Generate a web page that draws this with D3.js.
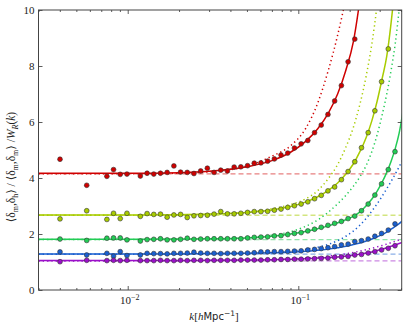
<!DOCTYPE html>
<html>
<head>
<meta charset="utf-8">
<script src="https://cdn.jsdelivr.net/npm/d3@7"></script>
<style>
  body { margin: 0; background: #fff; }
  svg { display: block; font-family: "Liberation Serif", "DejaVu Serif", serif; }
</style>
</head>
<body>
<svg id="chart" width="407" height="329"></svg>
<script>
// measured k bins (h/Mpc)
const kBins = [0.00401, 0.00575, 0.00755, 0.00826, 0.00904, 0.00990, 0.01186, 0.01299, 0.01422, 0.01556,
  0.01703, 0.01865, 0.02041, 0.02234, 0.02445, 0.02678, 0.02930, 0.03208, 0.03511, 0.03843,
  0.04207, 0.04605, 0.05040, 0.05517, 0.06039, 0.06610, 0.07236, 0.07920, 0.08670, 0.09490,
  0.1039, 0.1137, 0.1245, 0.1363, 0.1492, 0.1633, 0.1789, 0.1958, 0.2143, 0.2346,
  0.2568, 0.2811, 0.3077, 0.3369, 0.3688];

const redPts = [4.67, 3.74, 4.06, 4.30, 4.13, 4.14, 4.07, 4.17, 4.14, 4.17,
  4.20, 4.43, 4.21, 4.20, 4.16, 4.25, 4.35, 4.20, 4.28, 4.25,
  4.39, 4.40, 4.44, 4.53, 4.54, 4.60, 4.68, 4.82, 4.89, 5.07,
  5.22, 5.34, 5.62, 5.89, 6.27, 6.75, 7.30, 8.15, 8.96, null,
  null, null, null, null, null];
const yellowPts = [2.54, 2.83, 2.52, 2.74, 2.55, 2.74, 2.63, 2.73, 2.70, 2.71,
  2.60, 2.68, 2.70, 2.59, 2.65, 2.66, 2.67, 2.71, 2.80, 2.72,
  2.72, 2.74, 2.77, 2.80, 2.80, 2.81, 2.85, 2.89, 2.95, 3.01,
  3.07, 3.15, 3.26, 3.38, 3.54, 3.68, 3.94, 4.23, 4.58, 5.08,
  5.62, 6.40, 7.44, 8.61, null];
const greenPts = [1.82, 1.77, 1.85, 1.86, 1.86, 1.79, 1.75, 1.80, 1.81, 1.83,
  1.79, 1.79, 1.81, 1.85, 1.81, 1.82, 1.83, 1.83, 1.83, 1.83,
  1.83, 1.83, 1.86, 1.88, 1.89, 1.90, 1.93, 1.94, 1.98, 2.02,
  2.05, 2.11, 2.17, 2.24, 2.31, 2.38, 2.45, 2.55, 2.64, 2.83,
  3.07, 3.39, 3.79, 4.30, 4.94];
const bluePts = [1.36, 1.25, 1.31, 1.21, 1.37, 1.23, 1.25, 1.31, 1.30, 1.30,
  1.29, 1.31, 1.31, 1.32, 1.35, 1.32, 1.31, 1.31, 1.30, 1.31,
  1.31, 1.31, 1.32, 1.33, 1.36, 1.36, 1.37, 1.37, 1.38, 1.39,
  1.40, 1.43, 1.45, 1.48, 1.51, 1.55, 1.61, 1.64, 1.73, 1.76,
  1.82, 1.92, 2.02, 2.14, 2.36];
const magentaPts = [1.01, 1.06, 1.05, 1.06, 1.05, 1.06, 1.05, 1.05, 1.05, 1.06,
  1.05, 1.05, 1.06, 1.05, 1.06, 1.06, 1.05, 1.06, 1.06, 1.06,
  1.06, 1.07, 1.07, 1.07, 1.07, 1.08, 1.08, 1.09, 1.09, 1.10,
  1.10, 1.11, 1.12, 1.13, 1.14, 1.17, 1.18, 1.20, 1.25, 1.27,
  1.32, 1.37, 1.43, 1.49, 1.58];

// k values at which the fitted (solid) and model (dotted) curves were read
const curveK = [0.003, 0.01, 0.02, 0.03, 0.05, 0.07, 0.09, 0.11, 0.13, 0.15, 0.17, 0.19,
  0.21, 0.23, 0.25, 0.27, 0.29, 0.31, 0.33, 0.35, 0.37, 0.39, 0.41];

const redFit = [4.17, 4.17, 4.19, 4.24, 4.40, 4.62, 4.92, 5.30, 5.76, 6.32, 7.00, 7.85,
  8.85, 10.4, 12.2, null, null, null, null, null, null, null, null];
const redModel = [4.15, 4.15, 4.17, 4.22, 4.42, 4.78, 5.15, 5.75, 6.68, 7.85, 9.10, 10.45,
  12.0, null, null, null, null, null, null, null, null, null, null];
const yellowFit = [2.68, 2.68, 2.69, 2.71, 2.77, 2.86, 2.98, 3.14, 3.33, 3.56, 3.82, 4.14,
  4.50, 4.95, 5.45, 6.05, 6.75, 7.55, 8.35, 9.55, 11.0, 12.6, null];
const yellowModel = [2.67, 2.67, 2.68, 2.70, 2.78, 2.90, 3.05, 3.25, 3.55, 3.98, 4.48, 5.10,
  5.80, 6.65, 7.65, 8.80, 10.2, 11.8, null, null, null, null, null];
const greenFit = [1.81, 1.81, 1.82, 1.83, 1.86, 1.92, 2.00, 2.09, 2.19, 2.29, 2.40, 2.51,
  2.63, 2.79, 3.01, 3.25, 3.53, 3.85, 4.20, 4.60, 5.05, 5.60, 6.35];
const greenModel = [1.80, 1.80, 1.81, 1.82, 1.87, 1.96, 2.08, 2.27, 2.50, 2.78, 3.08, 3.38,
  3.70, 4.05, 4.45, 4.95, 5.55, 6.25, 7.00, 7.85, 8.80, 10.0, 11.2];
const blueFit = [1.29, 1.29, 1.29, 1.30, 1.31, 1.33, 1.35, 1.38, 1.42, 1.46, 1.51, 1.56,
  1.62, 1.68, 1.75, 1.82, 1.90, 1.98, 2.07, 2.17, 2.27, 2.37, 2.48];
const blueModel = [1.28, 1.28, 1.28, 1.29, 1.30, 1.33, 1.38, 1.45, 1.53, 1.63, 1.76, 1.92,
  2.10, 2.32, 2.56, 2.82, 3.08, 3.35, 3.62, 3.88, 4.14, 4.40, 4.66];
const magentaFit = [1.05, 1.05, 1.05, 1.06, 1.07, 1.08, 1.10, 1.12, 1.14, 1.16, 1.18, 1.21,
  1.24, 1.28, 1.32, 1.36, 1.41, 1.46, 1.51, 1.56, 1.61, 1.66, 1.71];
const magentaModel = [1.04, 1.04, 1.04, 1.05, 1.06, 1.08, 1.11, 1.14, 1.17, 1.21, 1.25, 1.29,
  1.34, 1.39, 1.44, 1.49, 1.54, 1.59, 1.64, 1.69, 1.74, 1.79, 1.84];

// constant large-scale bias (dashed)
const biasVals = [4.15, 2.67, 1.80, 1.28, 1.04];
const seriesColors = ["#d00000", "#a8cc00", "#22cc55", "#1a5fd0", "#9a10c8"];

const yTicks = [0, 2, 4, 6, 8, 10];
const xMajor = [0.01, 0.1];
const xMajorLabels = ["−2", "−1"];

const series = [
  { pts: redPts, fit: redFit, model: redModel },
  { pts: yellowPts, fit: yellowFit, model: yellowModel },
  { pts: greenPts, fit: greenFit, model: greenModel },
  { pts: bluePts, fit: blueFit, model: blueModel },
  { pts: magentaPts, fit: magentaFit, model: magentaModel }
];
series.forEach((s, i) => { s.bias = biasVals[i]; s.color = seriesColors[i]; });

// ---- layout
const svg = d3.select("#chart");
const padL = 38.5, padR = 401.7, padT = 10, padB = 290;

const x = d3.scaleLog().domain([0.003, 0.4037]).range([padL, padR]);
const y = d3.scaleLinear().domain([0, 10]).range([padB, padT]);

svg.append("clipPath").attr("id", "plotclip")
  .append("rect").attr("x", padL).attr("y", padT)
  .attr("width", padR - padL).attr("height", padB - padT);

const plot = svg.append("g").attr("clip-path", "url(#plotclip)");

const line = d3.line()
  .defined(d => d[1] != null)
  .x(d => x(d[0]))
  .y(d => y(d[1]))
  .curve(d3.curveMonotoneX);

// dashed constant bias
series.forEach(s => {
  plot.append("path")
    .attr("d", line(x.domain().map(k => [k, s.bias])))
    .attr("fill", "none")
    .attr("stroke", s.color)
    .attr("stroke-opacity", 0.5)
    .attr("stroke-width", 1.3)
    .attr("stroke-dasharray", "5,3");
});

// dotted model
series.forEach(s => {
  plot.append("path")
    .attr("d", line(curveK.map((k, i) => [k, s.model[i]])))
    .attr("fill", "none")
    .attr("stroke", s.color)
    .attr("stroke-width", 1.5)
    .attr("stroke-dasharray", "1.3,3");
});

// solid fit
series.forEach(s => {
  plot.append("path")
    .attr("d", line(curveK.map((k, i) => [k, s.fit[i]])))
    .attr("fill", "none")
    .attr("stroke", s.color)
    .attr("stroke-width", 1.5);
});

// measured points
series.forEach(s => {
  plot.selectAll(null)
    .data(kBins.map((k, i) => [k, s.pts[i]]).filter(d => d[1] != null))
    .enter().append("circle")
    .attr("cx", d => x(d[0]))
    .attr("cy", d => y(d[1]))
    .attr("r", 2.4)
    .attr("fill", s.color)
    .attr("stroke", "#333")
    .attr("stroke-width", 0.6);
});

// ---- axes (inward ticks on all sides)
const minorTicks = x.ticks().filter(t => !xMajor.includes(t));

svg.append("g").attr("transform", `translate(0,${padB})`)
  .call(d3.axisBottom(x).tickValues(minorTicks).tickSizeInner(-2).tickSizeOuter(0).tickFormat(""));
svg.append("g").attr("transform", `translate(0,${padB})`)
  .call(d3.axisBottom(x).tickValues(xMajor).tickSizeInner(-4).tickSizeOuter(0).tickFormat(""));
svg.append("g").attr("transform", `translate(0,${padT})`)
  .call(d3.axisTop(x).tickValues(minorTicks).tickSizeInner(-2).tickSizeOuter(0).tickFormat(""));
svg.append("g").attr("transform", `translate(0,${padT})`)
  .call(d3.axisTop(x).tickValues(xMajor).tickSizeInner(-4).tickSizeOuter(0).tickFormat(""));
svg.append("g").attr("transform", `translate(${padL},0)`)
  .call(d3.axisLeft(y).tickValues(yTicks).tickSizeInner(-4).tickSizeOuter(0).tickFormat(""));
svg.append("g").attr("transform", `translate(${padR},0)`)
  .call(d3.axisRight(y).tickValues(yTicks).tickSizeInner(-4).tickSizeOuter(0).tickFormat(""));

svg.selectAll(".domain").remove();
svg.selectAll(".tick line").attr("stroke", "#333").attr("stroke-width", 0.8);

svg.append("rect")
  .attr("x", padL).attr("y", padT)
  .attr("width", padR - padL).attr("height", padB - padT)
  .attr("fill", "none").attr("stroke", "#444").attr("stroke-width", 1);

// tick labels
svg.selectAll(".ylab").data(yTicks).enter().append("text")
  .attr("x", padL - 4)
  .attr("y", d => y(d) + 3.8)
  .attr("text-anchor", "end")
  .attr("font-size", 11)
  .attr("fill", "#222")
  .text(d => d);

xMajor.forEach((t, i) => {
  const lab = svg.append("text")
    .attr("x", x(t) + 2)
    .attr("y", 304)
    .attr("text-anchor", "middle")
    .attr("font-size", 11)
    .attr("fill", "#222");
  lab.append("tspan").text("10");
  lab.append("tspan").attr("dy", -4.5).attr("font-size", 8).text(xMajorLabels[i]);
});

// axis titles
const xt = svg.append("text")
  .attr("x", 214).attr("y", 320)
  .attr("text-anchor", "middle")
  .attr("font-size", 11)
  .attr("fill", "#222");
xt.append("tspan").attr("font-style", "italic").text("k");
xt.append("tspan").text("[");
xt.append("tspan").attr("font-style", "italic").text("h");
xt.append("tspan").attr("font-family", "DejaVu Sans, sans-serif").attr("font-size", 10).text("Mpc");
xt.append("tspan").attr("dy", -4).attr("font-size", 7.5).attr("font-family", "DejaVu Sans, sans-serif").text("−1");
xt.append("tspan").attr("dy", 4).text("]");

const yt = svg.append("text")
  .attr("transform", "translate(15,167) rotate(-90)")
  .attr("text-anchor", "middle")
  .attr("font-size", 11.5)
  .attr("fill", "#222");
const ylabParts = [
  ["⟨δ", 0], ["m", 1], [",δ", 0], ["h", 1], ["⟩ / ⟨δ", 0], ["m", 1], [",δ", 0], ["m", 1],
  ["⟩ /", 0], ["W", 2], ["R", 3], ["(", 0], ["k", 2], [")", 0]
];
let prevSub = false;
ylabParts.forEach(([t, kind]) => {
  const isSub = kind === 1 || kind === 3;
  const ts = yt.append("tspan").text(t);
  if (isSub && !prevSub) ts.attr("dy", 2.5);
  if (!isSub && prevSub) ts.attr("dy", -2.5);
  if (isSub) ts.attr("font-size", 8);
  if (kind >= 2) ts.attr("font-style", "italic");
  prevSub = isSub;
});
</script>
</body>
</html>
